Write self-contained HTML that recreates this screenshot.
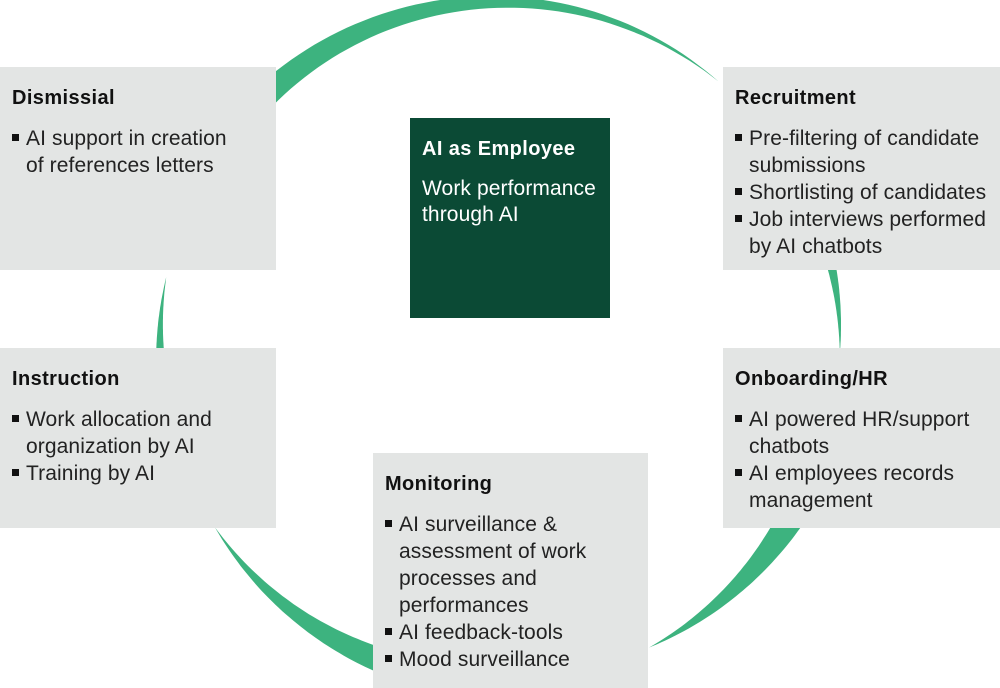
<!DOCTYPE html>
<html><head><meta charset="utf-8"><style>
body{margin:0;width:1000px;height:688px;position:relative;background:#fff;font-family:"Liberation Sans",sans-serif;overflow:hidden}
svg{position:absolute;left:0;top:0}
.b{position:absolute;background:#e3e5e4;color:#222;box-sizing:border-box;padding:19px 11px 18px 12px}
.b h3{margin:0 0 15px;font-size:20px;font-weight:bold;line-height:24px;letter-spacing:0.4px;color:#111}
.b p{margin:0;font-size:21px;line-height:27px;padding-left:14px;text-indent:-14px;letter-spacing:0.1px}
.b p:before{content:"";display:inline-block;width:7px;height:7px;background:#111;margin-right:7px;vertical-align:4px}
.c{position:absolute;left:410px;top:118px;width:200px;height:200px;background:#0b4a35;color:#fff;padding:19px 12px;box-sizing:border-box}
.c h3{margin:0 0 15px;font-size:20px;line-height:24px;letter-spacing:0.4px}
.c div{font-size:21px;line-height:26px;letter-spacing:0.1px}
</style></head><body>
<svg width="1000" height="688" id="s"></svg>
<div class="b" style="left:0;top:67px;width:276px;height:203px"><h3>Dismissial</h3><p>AI support in creation<br>of references letters</p></div>
<div class="b" style="left:723px;top:67px;width:277px;height:203px"><h3>Recruitment</h3><p>Pre-filtering of candidate submissions</p><p>Shortlisting of candidates</p><p>Job interviews performed by AI chatbots</p></div>
<div class="b" style="left:0;top:348px;width:276px;height:180px"><h3>Instruction</h3><p>Work allocation and organization by AI</p><p>Training by AI</p></div>
<div class="b" style="left:723px;top:348px;width:277px;height:180px"><h3>Onboarding/HR</h3><p>AI powered HR/support chatbots</p><p>AI employees records management</p></div>
<div class="b" style="left:373px;top:453px;width:275px;height:235px"><h3>Monitoring</h3><p>AI surveillance &amp; assessment of work processes and performances</p><p>AI feedback-tools</p><p>Mood surveillance</p></div>
<div class="c"><h3>AI as Employee</h3><div>Work performance through AI</div></div>
<script>
var cx=500,cy=342,r=340,arcs=[[-140,-50,26],[-25,2,16],[20,64,36],[100,147,32],[165,191,16]];
var h='';
arcs.forEach(function(a){var o=[],i=[],n=60;for(var k=0;k<=n;k++){var f=k/n,an=(a[0]+(a[1]-a[0])*f)*Math.PI/180,t=a[2]*(1-f);o.push((cx+(r+t/2)*Math.cos(an)).toFixed(1)+','+(cy+(r+t/2)*Math.sin(an)).toFixed(1));i.unshift((cx+(r-t/2)*Math.cos(an)).toFixed(1)+','+(cy+(r-t/2)*Math.sin(an)).toFixed(1));}
h+='<polygon fill="#3db37f" points="'+o.concat(i).join(' ')+'"/>';});
document.getElementById('s').innerHTML=h;
</script>
</body></html>
